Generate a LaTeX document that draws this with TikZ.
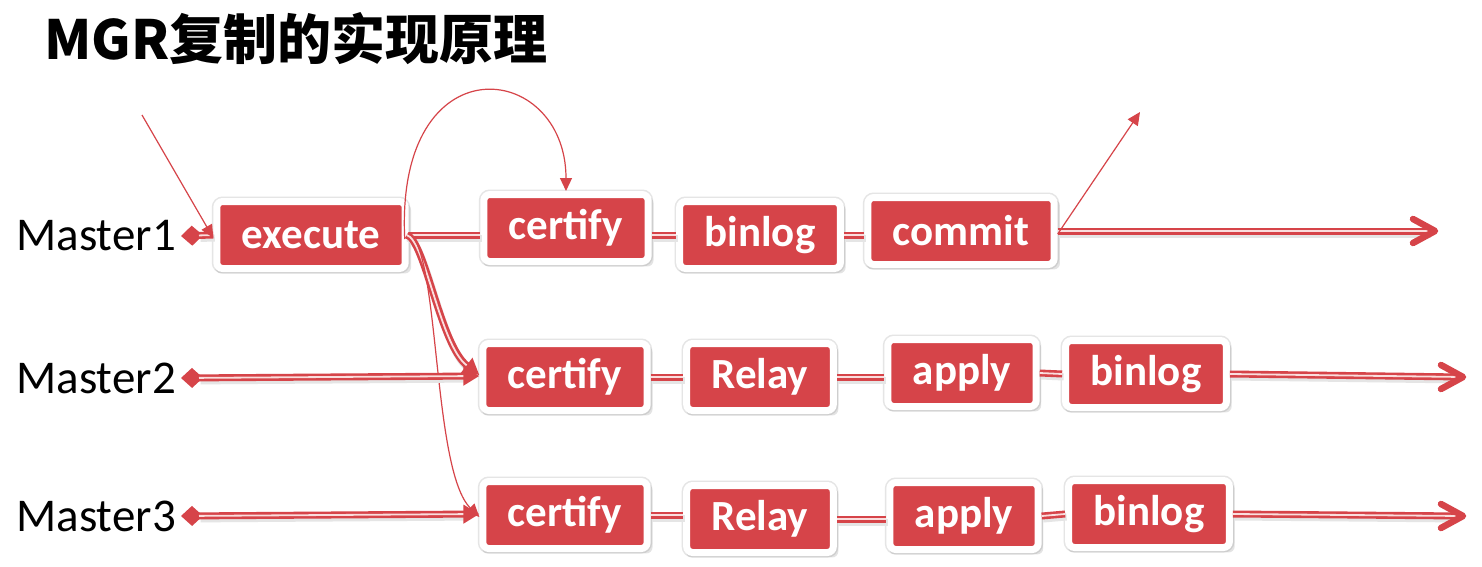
\documentclass[tikz,border=0pt]{standalone}
\usepackage{fontspec}
\setmainfont{Carlito}
\newfontfamily\cjk{Noto Sans CJK SC}
\usetikzlibrary{arrows.meta,shadows}
\definecolor{mgrred}{RGB}{214,68,73}
\definecolor{mgrin}{RGB}{250,222,222}
% double connector: soft shadow, outer red stroke with tips, inner light stroke shortened
\newcommand\dconn[4]{%
  \draw[black!10, line width=7pt, transform canvas={xshift=1.5pt,yshift=-3pt}, shorten <=#3, shorten >=#4] #2;
  \draw[mgrred, line width=7pt, #1] #2;
  \draw[mgrin, line width=1.8pt, shorten <=#3, shorten >=#4] #2;}
% chevron head at a named coordinate
\newcommand\chevron[1]{%
  \draw[mgrred, line width=6.5pt, line cap=round, line join=round]
    ([shift={(-22,-12)}]#1) -- (#1) -- ([shift={(-22,12)}]#1);}
\begin{document}
\begin{tikzpicture}[x=1pt,y=-1pt,
  box/.style={draw=white, line width=7pt, fill=mgrred, rounded corners=6pt,
    text=white, font=\fontsize{43}{46}\selectfont\bfseries, inner xsep=25pt,
    minimum height=67pt, anchor=center,
    preaction={draw=black!10, line width=10pt},
    drop shadow={opacity=0.22, shadow xshift=2pt, shadow yshift=-3.5pt, shadow scale=1.04}},
  lab/.style={font=\fontsize{47}{50}\selectfont, text=black, anchor=east, inner sep=0pt},
  thin/.style={draw=mgrred, line width=1.2pt},
  tri/.style={-{Triangle[length=13pt,width=12pt]}},
  dtri/.style={-{Triangle[length=16pt,width=18pt]}},
  ddia/.style={{Diamond[length=22pt,width=20pt]}-},
  ddiatri/.style={{Diamond[length=22pt,width=20pt]}-{Triangle[length=16pt,width=18pt]}}
]
\useasboundingbox (0,0) rectangle (1482,567);
\fill[white] (0,0) rectangle (1482,567);

\node[anchor=west, inner sep=0pt, font=\cjk\fontsize{54}{58}\selectfont\bfseries] (title) at (44,39) {MGR复制的实现原理};

\node[lab] (m1) at (176,236) {Master1};
\node[lab] (m2) at (176,378) {Master2};
\node[lab] (m3) at (176,516) {Master3};

\node[box] (exe) at (311,235) {execute};
\node[box] (c1) at (566,228) {certify};
\node[box] (b1) at (760,235) {binlog};
\node[box] (cm) at (961,231) {commit};

\node[box] (c2) at (565,377) {certify};
\node[box] (r2) at (760,377) {Relay};
\node[box] (a2) at (962,373) {apply};
\node[box] (b2) at (1146,374) {binlog};

\node[box] (c3) at (565,515) {certify};
\node[box] (r3) at (760,519) {Relay};
\node[box] (a3) at (964,516) {apply};
\node[box] (b3) at (1149,514) {binlog};

\coordinate (in1) at (142,115);
\coordinate (out1) at (1140,112);
\coordinate (e1) at (1435,231);
\coordinate (e2) at (1463,377);
\coordinate (e3) at (1463,516);

% row 1
\dconn{ddia}{([xshift=5pt]m1.east) -- (exe.west)}{18pt}{0pt}
\dconn{}{(exe.east) -- (c1.west |- exe.east)}{0pt}{0pt}
\dconn{}{(c1.east |- b1.west) -- (b1.west)}{0pt}{0pt}
\dconn{}{(b1.east) -- (cm.west |- b1.east)}{0pt}{0pt}
\dconn{}{(cm.east) -- (e1)}{0pt}{6pt}
\chevron{e1}
\draw[thin, tri] (in1) -- ([yshift=-3pt]exe.west);
\draw[thin, tri] ([yshift=-3pt]cm.east) -- (out1);
\draw[thin, tri] ([xshift=-4pt,yshift=-4pt]exe.east) .. controls (395,40) and (566,60) .. (c1.north);

% branches
\dconn{dtri}{([xshift=-2pt]exe.east) .. controls (425,240) and (440,345) .. ([yshift=2pt]c2.west)}{0pt}{16pt}
\draw[thin, tri] ([xshift=0pt,yshift=2pt]exe.east) .. controls (440,250) and (432,470) .. ([yshift=-2pt]c3.west);

% row 2
\dconn{ddiatri}{([xshift=5pt]m2.east) -- ([yshift=1pt]c2.west)}{18pt}{16pt}
\dconn{}{(c2.east) -- (r2.west)}{0pt}{0pt}
\dconn{}{(r2.east) -- (a2.west |- r2.east)}{0pt}{0pt}
\dconn{}{(a2.east) -- (b2.west)}{0pt}{0pt}
\dconn{}{(b2.east) -- (e2)}{0pt}{6pt}
\chevron{e2}

% row 3
\dconn{ddiatri}{([xshift=5pt]m3.east) -- ([yshift=1pt]c3.west)}{18pt}{16pt}
\dconn{}{(c3.east) -- (r3.west |- c3.east)}{0pt}{0pt}
\dconn{}{(r3.east) -- (a3.west |- r3.east)}{0pt}{0pt}
\dconn{}{(a3.east) -- (b3.west)}{0pt}{0pt}
\dconn{}{(b3.east) -- (e3)}{0pt}{6pt}
\chevron{e3}
\end{tikzpicture}
\end{document}
